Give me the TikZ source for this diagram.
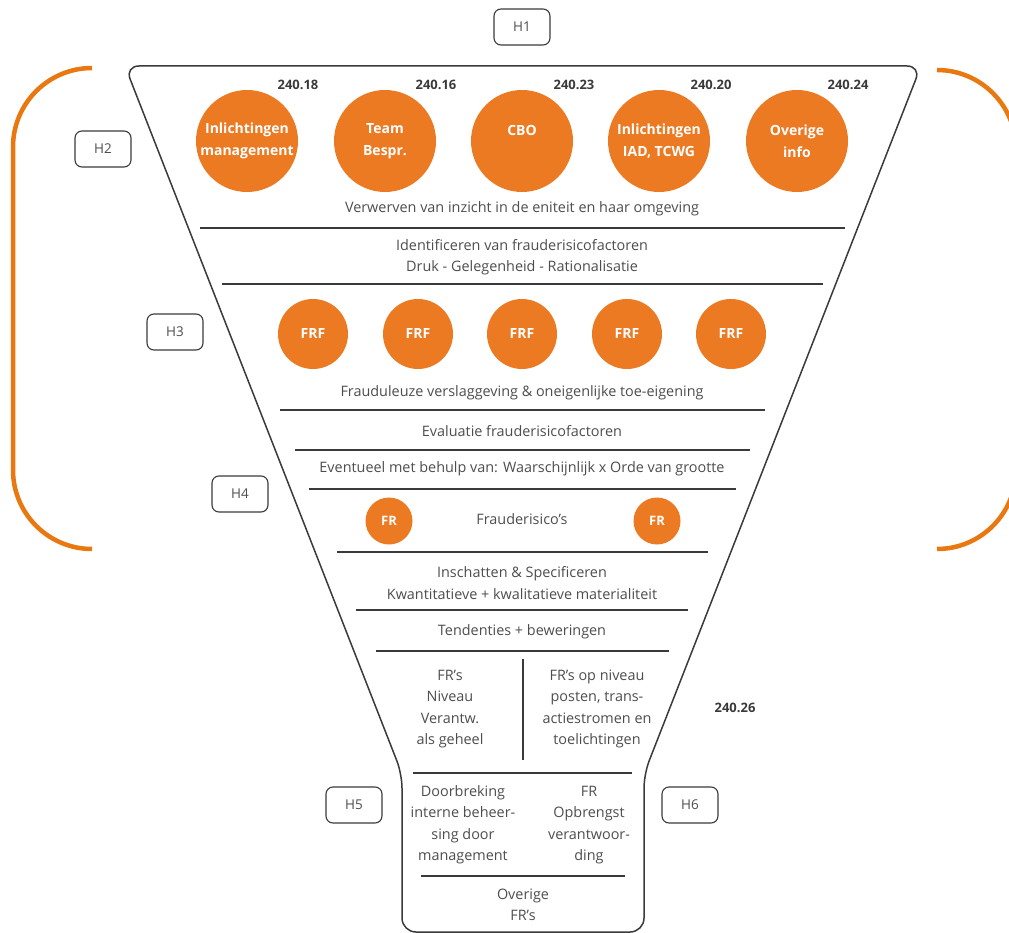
\documentclass[tikz,border=0pt]{standalone}
\usepackage{fontspec}
\setmainfont{Open Sans}
\definecolor{org}{HTML}{EC7A23}
\definecolor{brk}{HTML}{E8780F}
\definecolor{txt}{HTML}{4D4D4D}
\definecolor{ln}{HTML}{3A3A3A}
\begin{document}
\begin{tikzpicture}[x=1pt,y=-1pt,
  hbox/.style={draw=ln,line width=1.1pt,rounded corners=7pt,minimum width=56pt,minimum height=36pt,inner sep=0pt,text=txt,font=\fontsize{13.5}{16}\selectfont},
  bigc/.style={circle,fill=org,minimum size=102pt,inner sep=0pt,text=white,align=center,font=\fontsize{14}{22}\selectfont\bfseries},
  frf/.style={circle,fill=org,minimum size=70pt,inner sep=0pt,text=white,font=\fontsize{14}{16}\selectfont\bfseries},
  frc/.style={circle,fill=org,minimum size=47pt,inner sep=0pt,text=white,font=\fontsize{13}{16}\selectfont\bfseries},
  num/.style={text=ln,font=\fontsize{13}{16}\selectfont\bfseries,inner sep=0pt},
  t/.style={text=txt,align=center,inner sep=0pt,font=\fontsize{14.4}{21.5}\selectfont},
  sep/.style={draw=ln,line width=1.1pt},
  bracket/.style={draw=brk,line width=4.5pt}]
\useasboundingbox (0,0) rectangle (1009,933);

% orange brackets
\draw[bracket,rounded corners=79pt] (92,68) -- (13,68) -- (13,549) -- (92,549);
\draw[bracket,rounded corners=79pt] (937,70) -- (1016,70) -- (1016,549) -- (937,549);

% funnel
\draw[ln,line width=1.5pt,rounded corners=14pt] (402,850) -- (402,932) -- (644,932) -- (644,774) -- (921,66) -- (125,66) -- (402,774) -- cycle;

% H labels
\node[hbox] (h1) at (522,27) {H1};
\node[hbox] (h2) at (103,149) {H2};
\node[hbox] (h3) at (175,332) {H3};
\node[hbox] (h4) at (240,494) {H4};
\node[hbox] (h5) at (354,805) {H5};
\node[hbox] (h6) at (690,805) {H6};

% top circles
\node[bigc] (c1) at (247,141) {Inlichtingen\\management};
\node[bigc] (c2) at (385,141) {Team\\Bespr.};
\node[bigc] (c3) at (522,141) {CBO\\\phantom{X}};
\node[bigc] (c4) at (659,141) {Inlichtingen\\IAD, TCWG};
\node[bigc] (c5) at (797,141) {Overige\\info};
\node[num] (n1) at (298,85) {240.18};
\node[num] (n2) at (436,85) {240.16};
\node[num] (n3) at (574,85) {240.23};
\node[num] (n4) at (711,85) {240.20};
\node[num] (n5) at (848,85) {240.24};

\node[t] (verw) at (522,209) {Verwerven van inzicht in de eniteit en haar omgeving};
\draw[sep] (200,228) -- (845,228);
\node[t] (ident) at (522,257) {Identificeren van frauderisicofactoren\\Druk - Gelegenheid - Rationalisatie};
\draw[sep] (222,284) -- (823,284);

% FRF circles
\node[frf] (f1) at (313,334) {FRF};
\node[frf] (f2) at (418,334) {FRF};
\node[frf] (f3) at (522,334) {FRF};
\node[frf] (f4) at (627,334) {FRF};
\node[frf] (f5) at (731,334) {FRF};

\node[t] (fraud) at (522,393) {Frauduleuze verslaggeving \& oneigenlijke toe-eigening};
\draw[sep] (280,410) -- (765,410);
\node[t] (eval) at (522,431) {Evaluatie frauderisicofactoren};
\draw[sep] (295,450) -- (750,450);
\node[t] (event) at (522,469) {Eventueel met behulp van: Waarschijnlijk x Orde van grootte};
\draw[sep] (309,489) -- (736,489);
\node[frc] (fr1) at (389,521) {FR};
\node[frc] (fr2) at (657,521) {FR};
\node[t] (fris) at (522,519) {Frauderisico’s};
\draw[sep] (337,552) -- (708,552);
\node[t] (insch) at (522,583) {Inschatten \& Specificeren\\Kwantitatieve + kwalitatieve materialiteit};
\draw[sep] (356,610) -- (688,610);
\node[t] (tend) at (522,632) {Tendenties + beweringen};
\draw[sep] (376,651) -- (669,651);

\node[t] (lcol) at (450,709) {FR’s\\Niveau\\Verantw.\\als geheel};
\node[t] (rcol) at (597,709) {FR’s op niveau\\posten, trans-\\actiestromen en\\toelichtingen};
\draw[sep] (523,659) -- (523,760);
\node[num] (n6) at (735,708) {240.26};
\draw[sep] (413,773) -- (632,773);
\node[t] (door) at (463,825) {Doorbreking\\interne beheer-\\sing door\\management};
\node[t] (opbr) at (589,825) {FR\\Opbrengst\\verantwoor-\\ding};
\draw[sep] (421,876) -- (625,876);
\node[t] (over) at (523,905) {Overige\\FR’s};
\end{tikzpicture}
\end{document}
